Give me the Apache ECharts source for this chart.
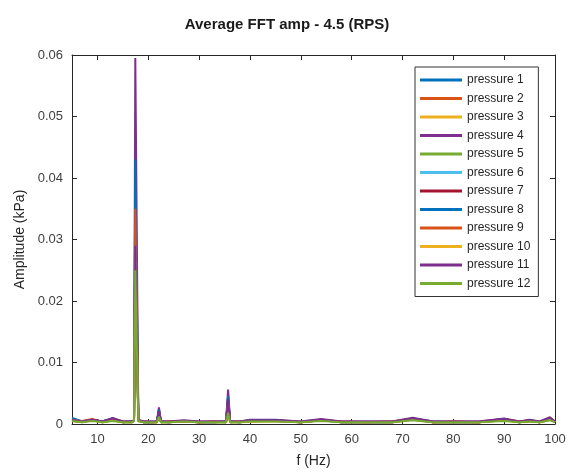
<!DOCTYPE html>
<html><head><meta charset="utf-8">
<script src="https://cdn.jsdelivr.net/npm/echarts@6/dist/echarts.min.js"></script>
<style>html,body{margin:0;padding:0;background:#fff}#c{width:574px;height:474px}</style>
</head><body><div id="c"></div>
<script>
// Frequency grid (Hz)
const freq = [5, 7, 9, 11, 13, 15, 16.8, 17.2, 17.45, 17.8, 18.05,
              19, 21, 21.7, 22.1, 22.5, 24, 27, 30, 33, 35.3,
              35.7, 36.1, 38, 40, 45, 50, 54, 58, 63, 68,
              72, 76, 80, 85, 90, 93, 95, 97, 99, 100];
const seriesNames = ['pressure 1','pressure 2','pressure 3','pressure 4','pressure 5','pressure 6',
                     'pressure 7','pressure 8','pressure 9','pressure 10','pressure 11','pressure 12'];
const p1  = [0.0010,0.0004,0.0007,0.0004,0.0009,0.0003,0.0004,0.0006,0.0400,0.0400,0.0006, 0.0003,0.0003,0.0004,0.0024,0.0004,0.0003,0.0005,0.0003,0.0003,0.0004, 0.0046,0.0004,0.0003,0.0006,0.0006,0.0003,0.0007,0.0003,0.0003,0.0003, 0.0009,0.0004,0.0003,0.0003,0.0008,0.0003,0.0006,0.0003,0.0009,0.0004];
const p2  = [0.0006,0.0005,0.0008,0.0003,0.0007,0.0004,0.0003,0.0005,0.0320,0.0320,0.0005, 0.0004,0.0003,0.0003,0.0018,0.0003,0.0004,0.0004,0.0003,0.0004,0.0003, 0.0035,0.0003,0.0004,0.0005,0.0005,0.0003,0.0006,0.0004,0.0003,0.0004, 0.0008,0.0003,0.0004,0.0003,0.0007,0.0004,0.0005,0.0003,0.0008,0.0003];
const p3  = [0.0005,0.0004,0.0006,0.0003,0.0006,0.0003,0.0003,0.0005,0.0270,0.0270,0.0005, 0.0003,0.0003,0.0003,0.0016,0.0003,0.0003,0.0004,0.0003,0.0003,0.0003, 0.0030,0.0003,0.0003,0.0004,0.0005,0.0003,0.0006,0.0003,0.0003,0.0003, 0.0008,0.0003,0.0003,0.0003,0.0006,0.0003,0.0005,0.0003,0.0007,0.0003];
const p4  = [0.0007,0.0004,0.0007,0.0004,0.0010,0.0004,0.0004,0.0007,0.0595,0.0595,0.0007, 0.0004,0.0004,0.0004,0.0027,0.0004,0.0004,0.0006,0.0004,0.0004,0.0004, 0.0056,0.0004,0.0004,0.0007,0.0007,0.0004,0.0008,0.0004,0.0004,0.0004, 0.0010,0.0004,0.0004,0.0004,0.0009,0.0004,0.0007,0.0004,0.0011,0.0004];
const p5  = [0.0005,0.0003,0.0006,0.0003,0.0006,0.0003,0.0003,0.0005,0.0240,0.0240,0.0005, 0.0003,0.0003,0.0003,0.0014,0.0003,0.0003,0.0004,0.0003,0.0003,0.0003, 0.0022,0.0003,0.0003,0.0004,0.0005,0.0003,0.0006,0.0003,0.0003,0.0003, 0.0007,0.0003,0.0003,0.0003,0.0006,0.0003,0.0005,0.0003,0.0007,0.0003];
const p6  = [0.0006,0.0004,0.0006,0.0003,0.0007,0.0003,0.0003,0.0005,0.0280,0.0280,0.0005, 0.0003,0.0003,0.0003,0.0017,0.0003,0.0003,0.0004,0.0003,0.0003,0.0003, 0.0032,0.0003,0.0003,0.0005,0.0005,0.0003,0.0006,0.0003,0.0003,0.0003, 0.0008,0.0003,0.0003,0.0003,0.0007,0.0003,0.0005,0.0003,0.0008,0.0003];
const p7  = [0.0006,0.0004,0.0007,0.0004,0.0008,0.0003,0.0004,0.0006,0.0300,0.0300,0.0006, 0.0003,0.0003,0.0004,0.0020,0.0004,0.0003,0.0005,0.0003,0.0003,0.0004, 0.0038,0.0004,0.0003,0.0005,0.0006,0.0003,0.0007,0.0003,0.0003,0.0003, 0.0009,0.0003,0.0003,0.0003,0.0008,0.0003,0.0006,0.0003,0.0009,0.0003];
const p8  = [0.0009,0.0004,0.0006,0.0004,0.0009,0.0003,0.0004,0.0006,0.0430,0.0430,0.0006, 0.0003,0.0003,0.0004,0.0023,0.0004,0.0003,0.0005,0.0003,0.0003,0.0004, 0.0045,0.0004,0.0003,0.0006,0.0006,0.0003,0.0007,0.0003,0.0003,0.0003, 0.0009,0.0003,0.0003,0.0003,0.0008,0.0003,0.0006,0.0003,0.0009,0.0004];
const p9  = [0.0007,0.0004,0.0007,0.0003,0.0008,0.0004,0.0003,0.0005,0.0350,0.0350,0.0005, 0.0004,0.0003,0.0003,0.0019,0.0003,0.0004,0.0004,0.0003,0.0004,0.0003, 0.0036,0.0003,0.0004,0.0005,0.0005,0.0003,0.0006,0.0004,0.0003,0.0004, 0.0008,0.0003,0.0004,0.0003,0.0007,0.0004,0.0005,0.0003,0.0008,0.0003];
const p10 = [0.0005,0.0004,0.0006,0.0003,0.0006,0.0003,0.0003,0.0005,0.0265,0.0265,0.0005, 0.0003,0.0003,0.0003,0.0015,0.0003,0.0003,0.0004,0.0003,0.0003,0.0003, 0.0028,0.0003,0.0003,0.0004,0.0005,0.0003,0.0006,0.0003,0.0003,0.0003, 0.0007,0.0003,0.0003,0.0003,0.0006,0.0003,0.0005,0.0003,0.0007,0.0003];
const p11 = [0.0006,0.0004,0.0007,0.0004,0.0009,0.0004,0.0004,0.0006,0.0290,0.0290,0.0006, 0.0004,0.0004,0.0004,0.0021,0.0004,0.0004,0.0005,0.0004,0.0004,0.0004, 0.0040,0.0004,0.0004,0.0006,0.0006,0.0004,0.0007,0.0004,0.0004,0.0004, 0.0009,0.0004,0.0004,0.0004,0.0008,0.0004,0.0006,0.0004,0.0010,0.0004];
const p12 = [0.0005,0.0003,0.0005,0.0003,0.0005,0.0003,0.0003,0.0005,0.0250,0.0250,0.0005, 0.0003,0.0003,0.0003,0.0012,0.0003,0.0003,0.0004,0.0003,0.0003,0.0003, 0.0018,0.0003,0.0003,0.0004,0.0004,0.0003,0.0005,0.0003,0.0003,0.0003, 0.0006,0.0003,0.0003,0.0003,0.0005,0.0003,0.0004,0.0003,0.0006,0.0003];
const xTicks = [10, 20, 30, 40, 50, 60, 70, 80, 90, 100];

const values = [p1,p2,p3,p4,p5,p6,p7,p8,p9,p10,p11,p12];
const colors = ['#0072BD','#D95319','#EDB120','#7E2F8E','#77AC30','#4DBEEE','#A2142F',
                '#0072BD','#D95319','#EDB120','#7E2F8E','#77AC30'];
const FONT = '"Liberation Sans", Arial, sans-serif';
const axisCol = '#262626';

const chart = echarts.init(document.getElementById('c'), null, {renderer:'canvas'});
const series = values.map((v, i) => ({
  name: seriesNames[i], type: 'line', xAxisIndex: 0, yAxisIndex: 0,
  data: freq.map((f, j) => [f, v[j]]),
  showSymbol: false, symbol: 'none', animation: false,
  lineStyle: {width: 2, color: colors[i]}, itemStyle: {color: colors[i]}
}));

chart.setOption({
  animation: false,
  title: {text: 'Average FFT amp - 4.5 (RPS)', left: 'center', top: 12,
    textStyle: {fontFamily: FONT, fontSize: 15, fontWeight: 'bold', color: '#1a1a1a'}},
  grid: {left: 72, right: 19, top: 55, bottom: 50},
  legend: {
    orient: 'vertical', left: 415, top: 67, width: 128,
    data: seriesNames, icon: 'rect', itemWidth: 42, itemHeight: 3, itemGap: 4.5,
    padding: [6, 8, 6, 5], borderColor: '#333', borderWidth: 1, backgroundColor: '#fff',
    textStyle: {fontFamily: FONT, fontSize: 12, color: '#262626', lineHeight: 14}
  },
  xAxis: [{
    type: 'value', min: 5, max: 100, position: 'bottom',
    name: 'f (Hz)', nameLocation: 'middle', nameGap: 30,
    nameTextStyle: {fontFamily: FONT, fontSize: 14, color: '#262626'},
    axisLine: {show: true, onZero: false, lineStyle: {color: axisCol, width: 1}},
    axisTick: {show: true, inside: true, length: 5, customValues: xTicks, lineStyle: {color: axisCol}},
    axisLabel: {customValues: xTicks, fontFamily: FONT, fontSize: 13, color: '#404040', margin: 9},
    splitLine: {show: false}
  }, {
    type: 'value', min: 5, max: 100, position: 'top',
    axisLine: {show: true, onZero: false, lineStyle: {color: axisCol, width: 1}},
    axisTick: {show: true, inside: true, length: 5, customValues: xTicks, lineStyle: {color: axisCol}},
    axisLabel: {show: false}, splitLine: {show: false}
  }],
  yAxis: [{
    type: 'value', min: 0, max: 0.06, interval: 0.01, position: 'left',
    name: 'Amplitude (kPa)', nameLocation: 'middle', nameGap: 38,
    nameTextStyle: {fontFamily: FONT, fontSize: 14, color: '#262626'},
    axisLine: {show: true, onZero: false, lineStyle: {color: axisCol, width: 1}},
    axisTick: {show: true, inside: true, length: 5, lineStyle: {color: axisCol}},
    axisLabel: {fontFamily: FONT, fontSize: 13, color: '#404040', margin: 9,
      formatter: v => String(+v.toFixed(2))},
    splitLine: {show: false}
  }, {
    type: 'value', min: 0, max: 0.06, interval: 0.01, position: 'right',
    axisLine: {show: true, onZero: false, lineStyle: {color: axisCol, width: 1}},
    axisTick: {show: true, inside: true, length: 5, lineStyle: {color: axisCol}},
    axisLabel: {show: false}, splitLine: {show: false}
  }],
  series: series
});
</script></body></html>
